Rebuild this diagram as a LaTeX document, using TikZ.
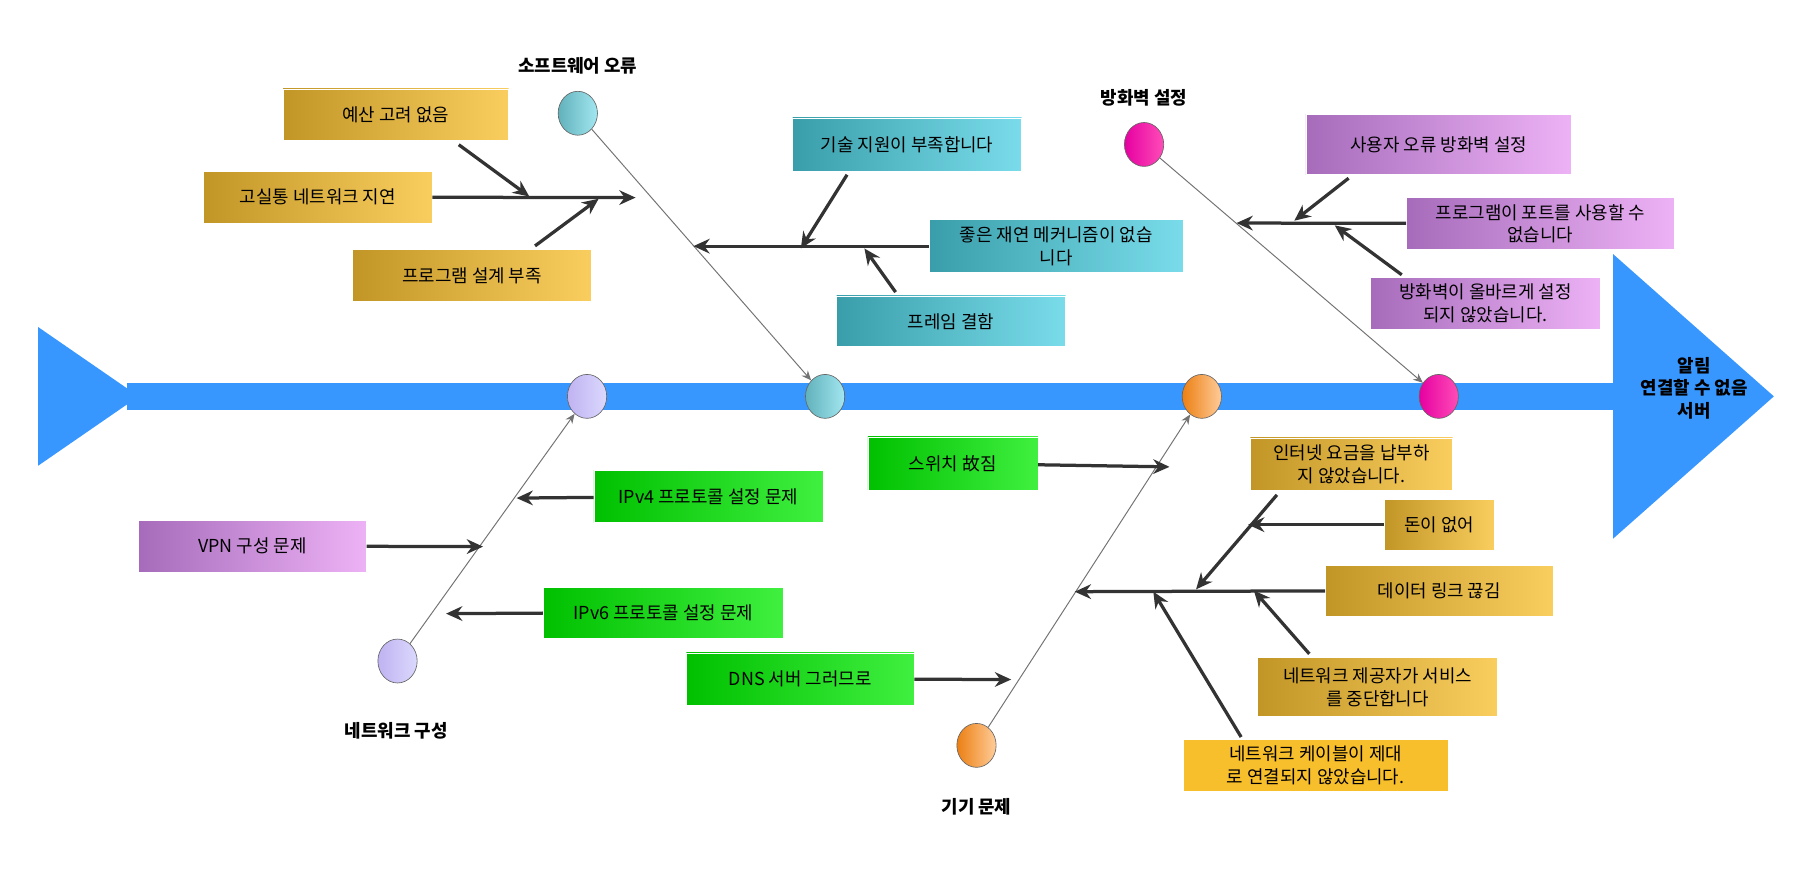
\documentclass[tikz,border=0pt]{standalone}
\usepackage{fontspec}
\setmainfont{Noto Sans CJK KR}
\usetikzlibrary{shapes.geometric, arrows.meta, positioning}
\definecolor{spineblue}{HTML}{3897FF}
\definecolor{goldL}{HTML}{C29527}
\definecolor{goldR}{HTML}{F9CE5E}
\definecolor{tealL}{HTML}{3A9EAA}
\definecolor{tealR}{HTML}{7ADCEA}
\definecolor{violL}{HTML}{A66CBB}
\definecolor{violR}{HTML}{EDB2F5}
\definecolor{limeL}{HTML}{00C000}
\definecolor{limeR}{HTML}{40F040}
\definecolor{cableY}{HTML}{F8BF2C}

\begin{document}
\begin{tikzpicture}[x=0.025cm, y=-0.025cm, font=\fontsize{11}{14}\selectfont]

        % Define styles
        \tikzstyle{cause} = [rectangle, inner sep=2pt, align=center, draw=white, line width=0.3pt]
        \tikzstyle{gold} = [cause, left color=goldL, right color=goldR]
        \tikzstyle{teal} = [cause, left color=tealL, right color=tealR]
        \tikzstyle{violet} = [cause, left color=violL, right color=violR]
        \tikzstyle{lime} = [cause, left color=limeL, right color=limeR]
        \tikzstyle{hub} = [ellipse, draw=black!60, minimum width=0.85cm, minimum height=0.95cm, inner sep=0pt]
        \tikzstyle{bone} = [draw=black!80, line width=2pt, -{Stealth[length=10pt, width=9pt]}]
        \tikzstyle{rib} = [draw=black!55, line width=0.6pt, -{Stealth[length=6pt, width=5pt]}]
        \tikzstyle{title} = [font=\fontsize{11}{14}\selectfont\bfseries, align=center]

        \useasboundingbox (0,0) rectangle (1568,754.5);

        % Spine
        \fill[spineblue] (33,283) -- (120,343) -- (33,403) -- cycle;
        \fill[spineblue] (110,331) rectangle (1400,355);
        \fill[spineblue] (1396,220) -- (1535,343) -- (1396,466) -- cycle;
        \node[title] (result) at (1466,336) {알림\\연결할 수 없음\\서버};

        % Hubs
        \node[hub, left color=violet!35!blue!30, right color=violet!10!blue!15] (netspine) at (508,343) {};
        \node[hub, left color=violet!35!blue!30, right color=violet!10!blue!15] (netend) at (344,572) {};
        \node[hub, left color=tealL!80, right color=tealR!70] (swspine) at (714,343) {};
        \node[hub, left color=tealL!80, right color=tealR!70] (swend) at (500,98) {};
        \node[hub, left color=orange!70!brown, right color=orange!40] (devspine) at (1040,343) {};
        \node[hub, left color=orange!70!brown, right color=orange!40] (devend) at (845,645) {};
        \node[hub, left color=magenta!70!red!90!black, right color=magenta!60!red!70] (fwspine) at (1245,343) {};
        \node[hub, left color=magenta!70!red!90!black, right color=magenta!60!red!70] (fwend) at (990,125) {};

        \node[title] (netlabel) at (343,632) {네트워크 구성};
        \node[title] (swlabel) at (500,57) {소프트웨어 오류};
        \node[title] (devlabel) at (845,698) {기기 문제};
        \node[title] (fwlabel) at (990,85) {방화벽 설정};

        % Causes
        \node[gold, minimum width=4.875cm, minimum height=1.1cm] (budget) at (342.5,99) {예산 고려 없음};
        \node[gold, minimum width=4.95cm, minimum height=1.125cm] (latency) at (275,170.5) {고실통 네트워크 지연};
        \node[gold, minimum width=5.175cm, minimum height=1.125cm] (design) at (408.5,238.5) {프로그램 설계 부족};
        \node[teal, minimum width=4.95cm, minimum height=1.15cm] (support) at (785,125) {기술 지원이 부족합니다};
        \node[teal, minimum width=5.5cm, minimum height=1.15cm] (retry) at (914,213) {좋은 재연 메커니즘이 없습\\니다};
        \node[teal, minimum width=4.95cm, minimum height=1.1cm] (frame) at (823,278) {프레임 결함};
        \node[violet, minimum width=5.75cm, minimum height=1.3cm] (usererr) at (1245,125) {사용자 오류 방화벽 설정};
        \node[violet, minimum width=5.8cm, minimum height=1.125cm] (port) at (1333,193.5) {프로그램이 포트를 사용할 수\\없습니다};
        \node[violet, minimum width=4.975cm, minimum height=1.125cm] (fwconf) at (1285.5,262.5) {방화벽이 올바르게 설정\\되지 않았습니다.};
        \node[lime, minimum width=4.95cm, minimum height=1.125cm] (ipv4) at (613,429.5) {IPv4 프로토콜 설정 문제};
        \node[violet, minimum width=4.925cm, minimum height=1.125cm] (vpn) at (218.5,472.5) {VPN 구성 문제};
        \node[lime, minimum width=5.2cm, minimum height=1.1cm] (ipv6) at (574,530) {IPv6 프로토콜 설정 문제};
        \node[lime, minimum width=3.675cm, minimum height=1.15cm] (switch) at (824.5,401) {스위치 故짐};
        \node[lime, minimum width=4.925cm, minimum height=1.125cm] (dns) at (692.5,587.5) {DNS 서버 그러므로};
        \node[gold, minimum width=4.375cm, minimum height=1.125cm] (fee) at (1169.5,401.5) {인터넷 요금을 납부하\\지 않았습니다.};
        \node[gold, minimum width=2.375cm, minimum height=1.1cm] (money) at (1245.5,454) {돈이 없어};
        \node[gold, minimum width=4.925cm, minimum height=1.1cm] (link) at (1245.5,511) {데이터 링크 끊김};
        \node[gold, minimum width=5.2cm, minimum height=1.275cm] (provider) at (1192,594.5) {네트워크 제공자가 서비스\\를 중단합니다};
        \node[cause, fill=cableY, minimum width=5.725cm, minimum height=1.125cm] (cable) at (1138.5,662.5) {네트워크 케이블이 제대\\로 연결되지 않았습니다.};

        % Bone ends
        \coordinate (swtip) at (550,171);
        \coordinate (retrytip) at (600,213);
        \coordinate (fwtip) at (1070,193);
        \coordinate (linktip) at (930,512);
        \coordinate (a1) at (458,170);
        \coordinate (a2) at (518,172);
        \coordinate (a3) at (693,215);
        \coordinate (a4) at (748,215);
        \coordinate (a5) at (1120,191);
        \coordinate (a6) at (1155,195);
        \coordinate (a7) at (447,431);
        \coordinate (a8) at (418,473);
        \coordinate (a9) at (386,531);
        \coordinate (a10) at (1012,404);
        \coordinate (a11) at (875,588);
        \coordinate (a12) at (1035,510);
        \coordinate (a13) at (1080,454);
        \coordinate (a14) at (1085,511);
        \coordinate (a15) at (998,512);

        % Draw edges
        \path [rib] (netend) -- (netspine);
        \path [rib] (swend) -- (swspine);
        \path [rib] (devend) -- (devspine);
        \path [rib] (fwend) -- (fwspine);

        \path [bone] (latency) -- (swtip);
        \path [bone] (budget.south) ++(54.5,4) -- (a1);
        \path [bone] (design.north) ++(54.5,-3) -- (a2);
        \path [bone] (retry) -- (retrytip);
        \path [bone] (support.south) ++(-52,3) -- (a3);
        \path [bone] (frame.north) ++(-48,-3) -- (a4);
        \path [bone] (port) -- (fwtip);
        \path [bone] (usererr.south) ++(-78,3) -- (a5);
        \path [bone] (fwconf.north) ++(-72.5,-2) -- (a6);
        \path [bone] (ipv4) -- (a7);
        \path [bone] (vpn) -- (a8);
        \path [bone] (ipv6) -- (a9);
        \path [bone] (switch) -- (a10);
        \path [bone] (dns) -- (a11);
        \path [bone] (link) -- (linktip);
        \path [bone] (fee.south) ++(-64.5,4) -- (a12);
        \path [bone] (money) -- (a13);
        \path [bone] (provider.north) ++(-59,-3) -- (a14);
        \path [bone] (cable.north) ++(-64.5,-2) -- (a15);

\end{tikzpicture}
\end{document}
